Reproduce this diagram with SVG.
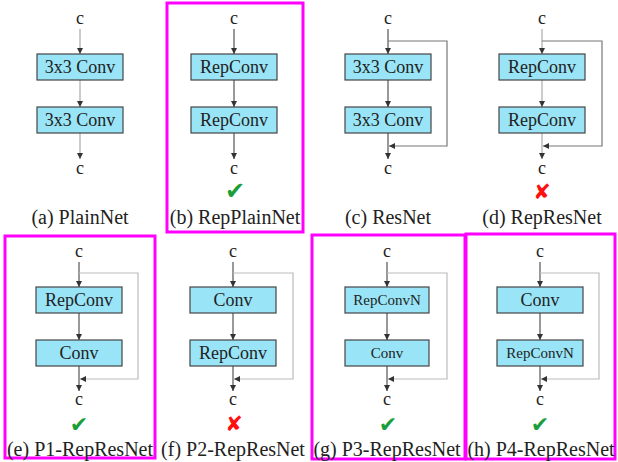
<svg xmlns="http://www.w3.org/2000/svg" width="618" height="462" viewBox="0 0 618 462">
<defs>
<marker id="ah" viewBox="0 0 6 6" refX="6" refY="3" markerWidth="6" markerHeight="6" markerUnits="userSpaceOnUse" orient="auto"><path d="M0,0 L6,3 L0,6 z" fill="#333"/></marker>
<style>
.box{fill:#99e5f7;stroke:#444;stroke-width:1.2}
.bt{font-family:"Liberation Serif","Times New Roman",serif;font-size:18px;fill:#222;text-anchor:middle}
.sm{font-size:15px}
.c{font-family:"Liberation Serif","Times New Roman",serif;font-size:18px;fill:#222;text-anchor:middle}
.cap{font-family:"Liberation Serif","Times New Roman",serif;font-size:20px;fill:#222;text-anchor:middle}
.ln{stroke:#555;stroke-width:1.2;fill:none;marker-end:url(#ah)}
.lt{stroke:#aaa;stroke-width:1.2;fill:none;marker-end:url(#ah)}
.by1{stroke:#777;stroke-width:1.2;fill:none;marker-end:url(#ah)}
.by2{stroke:#bbb;stroke-width:1.2;fill:none;marker-end:url(#ah)}
.ok{font-family:"DejaVu Sans",sans-serif;font-size:24px;fill:#1a9e3a;text-anchor:middle}
.ok2{font-size:22px}
.no{font-family:"DejaVu Sans",sans-serif;font-size:21px;fill:#ff1010;text-anchor:middle}
.fr{fill:none;stroke:#ff00ff;stroke-width:3}
</style>
</defs>
<g id="frames">
<rect class="fr" x="167" y="3" width="136" height="229"/>
<rect class="fr" x="5" y="236" width="150" height="222"/>
<rect class="fr" x="312" y="235" width="153" height="224"/>
<rect class="fr" x="466" y="234" width="149" height="225"/>
</g>
<g id="connectors">
<line class="lt" x1="80" y1="29" x2="80" y2="54"/>
<line class="lt" x1="80" y1="80" x2="80" y2="107"/>
<line class="lt" x1="80" y1="133" x2="80" y2="159"/>
<line class="ln" x1="234" y1="29" x2="234" y2="54"/>
<line class="ln" x1="234" y1="80" x2="234" y2="107"/>
<line class="ln" x1="234" y1="133" x2="234" y2="159"/>
<line class="ln" x1="388" y1="29" x2="388" y2="54"/>
<line class="ln" x1="388" y1="80" x2="388" y2="107"/>
<line class="ln" x1="388" y1="133" x2="388" y2="159"/>
<path class="by1" d="M388,41 H447 V146 H389"/>
<line class="lt" x1="542" y1="29" x2="542" y2="54"/>
<line class="lt" x1="542" y1="80" x2="542" y2="107"/>
<line class="lt" x1="542" y1="133" x2="542" y2="159"/>
<path class="by1" d="M542,41 H602 V146 H543"/>
<line class="ln" x1="79" y1="262" x2="79" y2="287"/>
<line class="ln" x1="79" y1="313" x2="79" y2="340"/>
<line class="ln" x1="79" y1="366" x2="79" y2="391"/>
<path class="by2" d="M79,273 H138 V379 H80"/>
<line class="ln" x1="233" y1="262" x2="233" y2="287"/>
<line class="ln" x1="233" y1="313" x2="233" y2="340"/>
<line class="ln" x1="233" y1="366" x2="233" y2="391"/>
<path class="by2" d="M233,273 H293 V379 H234"/>
<line class="ln" x1="387" y1="262" x2="387" y2="287"/>
<line class="ln" x1="387" y1="313" x2="387" y2="340"/>
<line class="ln" x1="387" y1="366" x2="387" y2="391"/>
<path class="by2" d="M387,273 H447 V379 H388"/>
<line class="ln" x1="540" y1="262" x2="540" y2="287"/>
<line class="ln" x1="540" y1="313" x2="540" y2="340"/>
<line class="ln" x1="540" y1="366" x2="540" y2="391"/>
<path class="by2" d="M540,273 H599 V379 H541"/>
</g>
<g id="a">
<text class="c" x="80" y="24">c</text>
<rect class="box" x="37" y="54" width="86" height="26"/><text class="bt" x="80" y="73">3x3 Conv</text>
<rect class="box" x="37" y="107" width="86" height="26"/><text class="bt" x="80" y="126">3x3 Conv</text>
<text class="c" x="80" y="174">c</text>
<text class="cap" x="80" y="224">(a) PlainNet</text>
</g>
<g id="b">
<text class="c" x="234" y="24">c</text>
<rect class="box" x="191" y="54" width="86" height="26"/><text class="bt" x="234" y="73">RepConv</text>
<rect class="box" x="191" y="107" width="86" height="26"/><text class="bt" x="234" y="126">RepConv</text>
<text class="c" x="234" y="174">c</text>
<text class="ok" x="235" y="199">✔</text>
<text class="cap" x="235" y="224">(b) RepPlainNet</text>
</g>
<g id="c">
<text class="c" x="388" y="24">c</text>
<rect class="box" x="345" y="54" width="86" height="26"/><text class="bt" x="388" y="73">3x3 Conv</text>
<rect class="box" x="345" y="107" width="86" height="26"/><text class="bt" x="388" y="126">3x3 Conv</text>
<text class="c" x="388" y="174">c</text>
<text class="cap" x="388" y="224">(c) ResNet</text>
</g>
<g id="d">
<text class="c" x="542" y="24">c</text>
<rect class="box" x="499" y="54" width="86" height="26"/><text class="bt" x="542" y="73">RepConv</text>
<rect class="box" x="499" y="107" width="86" height="26"/><text class="bt" x="542" y="126">RepConv</text>
<text class="c" x="542" y="174">c</text>
<text class="no" x="542" y="199">✘</text>
<text class="cap" x="542" y="224">(d) RepResNet</text>
</g>
<g id="e">
<text class="c" x="79" y="257">c</text>
<rect class="box" x="36" y="287" width="86" height="26"/><text class="bt" x="79" y="306">RepConv</text>
<rect class="box" x="36" y="340" width="86" height="26"/><text class="bt" x="79" y="359">Conv</text>
<text class="c" x="79" y="405">c</text>
<text class="ok ok2" x="79" y="432">✔</text>
<text class="cap" x="80" y="456">(e) P1-RepResNet</text>
</g>
<g id="f">
<text class="c" x="233" y="257">c</text>
<rect class="box" x="190" y="287" width="86" height="26"/><text class="bt" x="233" y="306">Conv</text>
<rect class="box" x="190" y="340" width="86" height="26"/><text class="bt" x="233" y="359">RepConv</text>
<text class="c" x="233" y="405">c</text>
<text class="no" x="234" y="431">✘</text>
<text class="cap" x="233" y="456">(f) P2-RepResNet</text>
</g>
<g id="g">
<text class="c" x="387" y="257">c</text>
<rect class="box" x="345" y="287" width="84" height="26"/><text class="bt sm" x="387" y="305">RepConvN</text>
<rect class="box" x="345" y="340" width="84" height="26"/><text class="bt sm" x="387" y="358">Conv</text>
<text class="c" x="387" y="405">c</text>
<text class="ok ok2" x="388" y="432">✔</text>
<text class="cap" x="387" y="456">(g) P3-RepResNet</text>
</g>
<g id="h">
<text class="c" x="540" y="257">c</text>
<rect class="box" x="497" y="287" width="86" height="26"/><text class="bt" x="540" y="306">Conv</text>
<rect class="box" x="497" y="340" width="86" height="26"/><text class="bt sm" x="540" y="358">RepConvN</text>
<text class="c" x="540" y="405">c</text>
<text class="ok ok2" x="540" y="432">✔</text>
<text class="cap" x="541" y="456">(h) P4-RepResNet</text>
</g>
</svg>
